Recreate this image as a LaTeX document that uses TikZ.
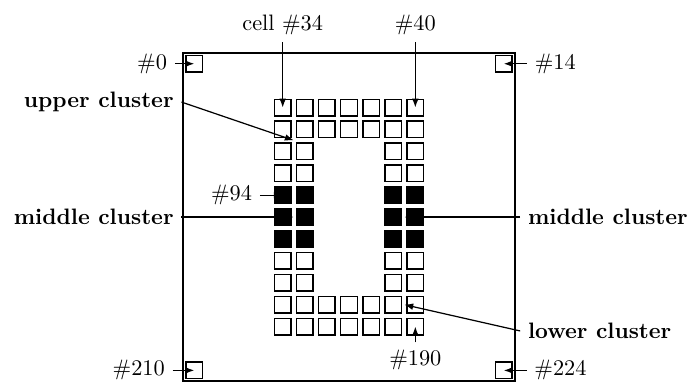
\documentclass[tikz,border=0pt]{standalone}
\usepackage{tikz}
\usetikzlibrary{arrows.meta,calc}

\begin{document}
\begin{tikzpicture}[x=9.9pt,y=9.81pt,
  cellbox/.style={draw,line width=0.65pt,minimum size=7.4pt,inner sep=0pt},
  darkbox/.style={cellbox,fill=black},
  pointer/.style={-{Latex[length=4pt,width=3pt]},line width=0.55pt},
  cluster/.style={font=\bfseries}]
  \useasboundingbox (-8.29,-0.09) rectangle (22.88,17.41);
  \draw[line width=0.8pt] (0,0) rectangle (15,15);
  \foreach \n/\c/\r in {0/0/0,14/14/0,210/0/14,224/14/14}{
    \node[cellbox] (c\n) at (\c+0.5,14.5-\r) {};}
  \foreach \r in {2,3,11,12}{
    \foreach \c in {4,...,10}{
      \pgfmathtruncatemacro\n{15*\r+\c}
      \node[cellbox] (c\n) at (\c+0.5,14.5-\r) {};}}
  \foreach \r in {4,5,9,10}{
    \foreach \c in {4,5,9,10}{
      \pgfmathtruncatemacro\n{15*\r+\c}
      \node[cellbox] (c\n) at (\c+0.5,14.5-\r) {};}}
  \foreach \r in {6,7,8}{
    \foreach \c in {4,5,9,10}{
      \pgfmathtruncatemacro\n{15*\r+\c}
      \node[darkbox] (c\n) at (\c+0.5,14.5-\r) {};}}
  \node[anchor=east] (l0) at (-0.38,14.5) {\#0};
  \node[anchor=west] (l14) at (15.55,14.5) {\#14};
  \node[anchor=east] (l210) at (-0.48,0.5) {\#210};
  \node[anchor=west] (l224) at (15.53,0.5) {\#224};
  \node[anchor=south] (l34) at (4.5,15.48) {cell \#34};
  \node[anchor=south] (l40) at (10.5,15.48) {\#40};
  \node[anchor=east] (l94) at (3.47,8.5) {\#94};
  \node[anchor=north] (l190) at (10.5,1.78) {\#190};
  \node[cluster,anchor=east] (lup) at (-0.08,12.75) {upper cluster};
  \node[cluster,anchor=east] (lmidl) at (-0.08,7.5) {middle cluster};
  \node[cluster,anchor=west] (lmidr) at (15.24,7.5) {middle cluster};
  \node[cluster,anchor=west] (llow) at (15.24,2.3) {lower cluster};
  \foreach \a/\b in {l0/c0,l14/c14,l210/c210,l224/c224,l34/c34,l40/c40,
                     l94/c94,l190/c190}{
    \draw[pointer] (\a) -- (\b.center);}
  \draw[pointer] (lup.east) -- ($(c49)!0.5!(c65)$);
  \draw[pointer] (lmidl.east) -- ($(c109)!0.5!(c110)$);
  \draw[pointer] (lmidr.west) -- ($(c114)!0.5!(c115)$);
  \draw[pointer] (llow.west) -- ($(c174)!0.5!(c175)$);
\end{tikzpicture}
\end{document}
